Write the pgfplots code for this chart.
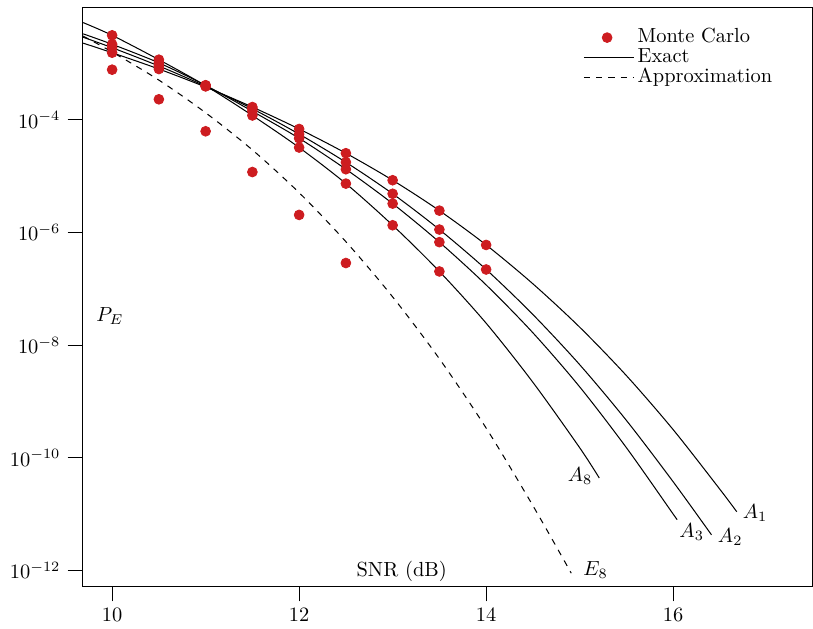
\documentclass[border=0pt]{standalone}
\usepackage{pgfplots}
\pgfplotsset{compat=1.18}
\definecolor{mcred}{RGB}{205,28,32}
\begin{document}
\begin{tikzpicture}
\begin{axis}[
  scale only axis,
  width=357.4pt, height=283.2pt,
  ymode=log,
  xmin=9.687, xmax=17.49,
  ymin=5.25e-13, ymax=9.77e-3,
  xtick={10,12,14,16},
  ytick={1e-4,1e-6,1e-8,1e-10,1e-12},
  minor tick num=0,
  yminorticks=false,
  tick align=outside,
  major tick length=7.5pt,
  xtick pos=left, ytick pos=left,
  axis line style={line width=0.5pt},
  every tick/.style={black, line width=0.5pt},
  legend style={draw=none, fill=none, at={(rel axis cs:0.686,0.966)}, anchor=north west,
    inner sep=0pt, outer sep=0pt, row sep=0pt,
    nodes={inner sep=0.6pt, text height=6.7pt, text depth=1.9pt},
    /tikz/every odd column/.append style={column sep=1pt}},
  legend cell align=left,
]
% exact curves A1, A2, A3, A8
\addplot[black, line width=0.5pt, smooth, forget plot] coordinates {
 (9.69,2.317e-3) (10,1.567e-3) (10.5,8.04e-4) (11,3.85e-4) (11.5,1.698e-4) (12,6.92e-5)
 (12.5,2.57e-5) (13,8.51e-6) (13.5,2.455e-6) (14,6.03e-7) (14.5,1.230e-7) (15,2.09e-8)
 (15.5,2.88e-9) (16,3.16e-10) (16.5,2.75e-11) (16.68,1.10e-11)};
\addplot[black, line width=0.5pt, smooth, forget plot] coordinates {
 (9.69,2.95e-3) (10,1.923e-3) (10.5,9.10e-4) (11,3.97e-4) (11.5,1.581e-4) (12,5.61e-5)
 (12.5,1.774e-5) (13,4.89e-6) (13.5,1.132e-6) (14,2.21e-7) (14.5,3.50e-8) (15,4.51e-9)
 (15.5,4.61e-10) (16,3.75e-11) (16.41,4.27e-12)};
\addplot[black, line width=0.5pt, smooth, forget plot] coordinates {
 (9.69,3.39e-3) (10,2.213e-3) (10.5,1.035e-3) (11,4.12e-4) (11.5,1.429e-4) (12,4.73e-5)
 (12.5,1.334e-5) (13,3.27e-6) (13.5,6.76e-7) (14,1.175e-7) (14.5,1.66e-8) (15,1.82e-9)
 (15.5,1.51e-10) (16,1.0e-11) (16.03,8.51e-12)};
\addplot[black, line width=0.5pt, smooth, forget plot] coordinates {
 (9.69,5.37e-3) (10,3.19e-3) (10.5,1.178e-3) (11,4.06e-4) (11.5,1.202e-4) (12,3.24e-5)
 (12.5,7.41e-6) (13,1.349e-6) (13.5,2.04e-7) (14,2.455e-8) (14.5,2.19e-9) (15,1.51e-10)
 (15.21,4.37e-11)};
% approximation E8
\addplot[black, line width=0.5pt, dashed, smooth, forget plot] coordinates {
 (9.69,3.09e-3) (10,1.614e-3) (10.5,5.11e-4) (11,1.343e-4) (11.5,2.94e-5) (12,5.11e-6)
 (12.5,6.89e-7) (13,7.21e-8) (13.5,5.73e-9) (14,3.37e-10) (14.5,1.41e-11) (14.91,8.91e-13)};
% Monte Carlo
\addplot[only marks, mark=*, mark size=2.4pt, mcred, forget plot] coordinates {
 (10,3.19e-3) (10,2.213e-3) (10,1.923e-3) (10,1.567e-3) (10,7.83e-4)
 (10.5,1.178e-3) (10.5,1.035e-3) (10.5,9.10e-4) (10.5,8.04e-4) (10.5,2.33e-4)
 (11,4.15e-4) (11,4.08e-4) (11,4.02e-4) (11,3.95e-4) (11,6.30e-5)
 (11.5,1.698e-4) (11.5,1.581e-4) (11.5,1.429e-4) (11.5,1.202e-4) (11.5,1.19e-5)
 (12,6.92e-5) (12,5.61e-5) (12,4.73e-5) (12,3.24e-5) (12,2.06e-6)
 (12.5,2.57e-5) (12.5,1.774e-5) (12.5,1.334e-5) (12.5,7.41e-6) (12.5,2.88e-7)
 (13,8.51e-6) (13,4.89e-6) (13,3.27e-6) (13,1.349e-6)
 (13.5,2.455e-6) (13.5,1.132e-6) (13.5,6.76e-7) (13.5,2.04e-7)
 (14,6.03e-7) (14,2.21e-7)};
\addlegendimage{legend image code/.code={\fill[mcred] (0.4cm,0cm) circle (2.4pt);}}
\addlegendentry{Monte Carlo}
\addlegendimage{legend image code/.code={\draw[black, line width=0.5pt] (0cm,0cm) -- (0.86cm,0cm);}}
\addlegendentry{Exact}
\addlegendimage{legend image code/.code={\draw[black, line width=0.5pt, dashed] (0cm,0cm) -- (0.86cm,0cm);}}
\addlegendentry{Approximation}
\node at (rel axis cs:0.037,0.467) {$P_E$};
\node at (rel axis cs:0.437,0.026) {SNR (dB)};
\node at (axis cs:15.005,4.8e-11) {$A_8$};
\node at (axis cs:16.198,4.81e-12) {$A_3$};
\node at (axis cs:16.61,3.92e-12) {$A_2$};
\node at (axis cs:16.877,1.05e-11) {$A_1$};
\node at (axis cs:15.17,1.0e-12) {$E_8$};
\end{axis}
\path ([yshift=3.9pt]current axis.north);
\path ([xshift=-1.5pt]current axis.outer south west);
\end{tikzpicture}
\end{document}
